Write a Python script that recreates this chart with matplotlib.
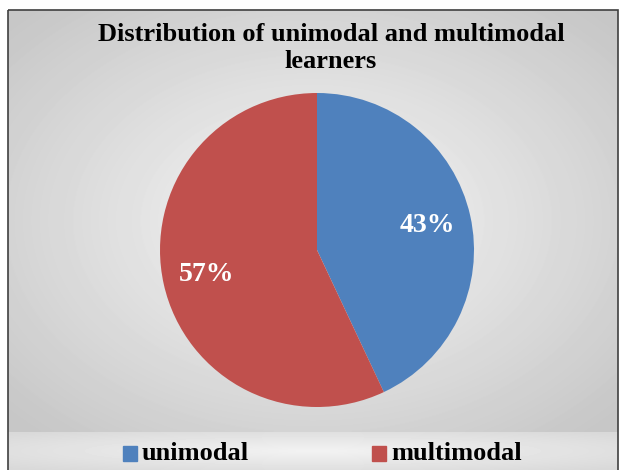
import numpy as np
import matplotlib
matplotlib.use("Agg")
import matplotlib.pyplot as plt
from matplotlib.patches import Rectangle

labels = ["unimodal", "multimodal"]
shares = [43, 57]
colors = ["#4F81BD", "#C0504D"]
title = "Distribution of unimodal and multimodal\nlearners"

W, H = 623, 470
fig = plt.figure(figsize=(W / 100, H / 100), dpi=100)
fig.patch.set_facecolor("white")

def grad_panel(x0, y0, x1, y1, lo=0.78, hi=0.97):
    # radial grey gradient, light in the middle
    ax = fig.add_axes([x0 / W, 1 - y1 / H, (x1 - x0) / W, (y1 - y0) / H])
    nx, ny = int(x1 - x0), int(y1 - y0)
    xx, yy = np.meshgrid(np.linspace(-1, 1, nx), np.linspace(-1, 1, ny))
    r = np.clip(np.sqrt(xx ** 2 + yy ** 2) / 1.35, 0, 1)
    img = hi - (hi - lo) * r
    ax.imshow(img, cmap="gray", vmin=0, vmax=1, aspect="auto",
              interpolation="bilinear")
    ax.axis("off")
    return ax

grad_panel(8, 10, 618, 432)
grad_panel(8, 432, 618, 470, lo=0.85, hi=0.95)

# outer border
frame = fig.add_axes([0, 0, 1, 1], facecolor="none")
frame.set_xlim(0, W); frame.set_ylim(H, 0); frame.axis("off")
frame.add_patch(Rectangle((8, 10), 610, 470, fill=False, ec="#404040", lw=1.2))

# pie
cx, cy, rad = 317, 250, 157
pax = fig.add_axes([(cx - rad) / W, 1 - (cy + rad) / H, 2 * rad / W, 2 * rad / H])
wedges, _ = pax.pie(shares, colors=colors, startangle=90, counterclock=False,
                    wedgeprops=dict(linewidth=0))
pax.set_aspect("auto")
pax.set_xlim(-1, 1); pax.set_ylim(-1, 1)
pax.axis("off")
ang = np.cumsum([0] + shares)
for i, s in enumerate(shares):
    mid = np.deg2rad(90 - 3.6 * (ang[i] + s / 2))
    pax.text(0.72 * np.cos(mid), 0.72 * np.sin(mid), f"{s}%",
             ha="center", va="center", color="white", fontsize=20,
             fontweight="bold", family="Liberation Serif")

frame.text(331, 48, title, ha="center", va="center", fontsize=19,
           fontweight="bold", family="Liberation Serif", linespacing=1.25)

# legend
lx = [123, 372]
for x, lab, c in zip(lx, labels, colors):
    frame.add_patch(Rectangle((x, 446), 14, 15, color=c))
    frame.text(x + 19, 453, lab, ha="left", va="center", fontsize=19,
               fontweight="bold", family="Liberation Serif")

fig.savefig("out.png", dpi=100)
